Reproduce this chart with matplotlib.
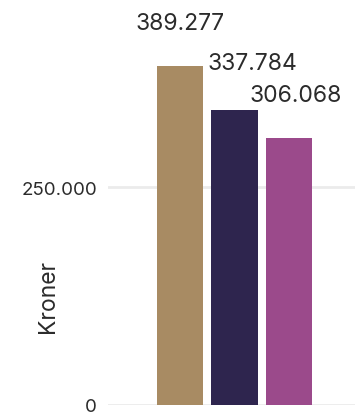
import numpy as np
import matplotlib
matplotlib.use("Agg")
import matplotlib.pyplot as plt
from matplotlib.ticker import FuncFormatter

# Values in kroner for the three groups
values = [389277, 337784, 306068]
colors = ["#a88b63", "#2e254e", "#9b4a8b"]
yticks = [0, 250000]
ylabel = "Kroner"

# label offsets (pixels) relative to each bar top
label_offsets = [(0, 32), (18, 36), (7, 32)]

plt.rcParams["font.family"] = ["Inter", "DejaVu Sans"]
text_color = "#2b2b2b"


def dk(v, pos=None):
    return f"{v:,.0f}".replace(",", ".")


fig = plt.figure(figsize=(3.55, 4.14), dpi=100)
ax = fig.add_axes([108 / 355, 8 / 414, 247 / 355, 406 / 414])

x = np.arange(len(values))
ax.bar(x, values, width=0.845, color=colors, zorder=3)

for xi, v, (dx, dy) in zip(x, values, label_offsets):
    ax.annotate(dk(v), xy=(xi, v), xytext=(dx, dy), textcoords="offset pixels",
                ha="center", va="bottom", fontsize=16.5, color=text_color)

ax.set_xlim(-1.32, 3.21)
ax.set_ylim(0, 465600)
ax.set_yticks(yticks)
ax.yaxis.set_major_formatter(FuncFormatter(dk))
ax.set_xticks([])
ax.grid(axis="y", color="#ebebeb", linewidth=2, zorder=0)
ax.tick_params(axis="y", length=0, pad=8, labelsize=13.5, labelcolor=text_color)
for s in ax.spines.values():
    s.set_visible(False)

ax.set_ylabel(ylabel, fontsize=16.5, color=text_color)
ax.yaxis.set_label_coords(-0.2, 0.27)

fig.savefig("out.png", dpi=100)
